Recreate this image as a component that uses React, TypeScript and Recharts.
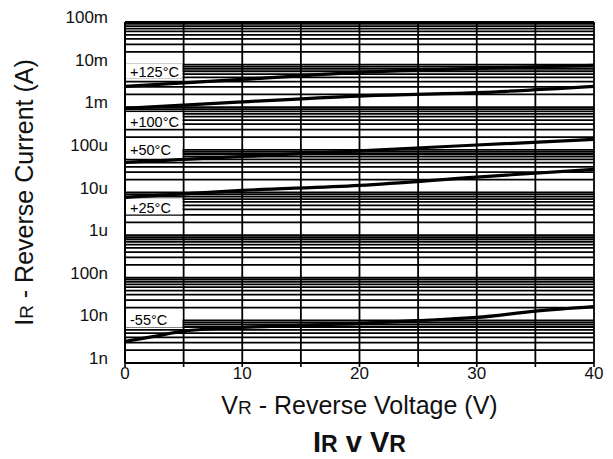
import React from 'react';
import { LineChart, Line, XAxis, YAxis, CartesianGrid, ReferenceArea } from 'recharts';

// ---- data ----
const volts = [0, 10, 20, 30, 40];
const voltsCold = [0, 2.5, 5, 10, 20, 25, 30, 35, 40];
const ir125 = [3.1e-3, 4.5e-3, 6.6e-3, 8.2e-3, 9.6e-3];
const ir100 = [0.94e-3, 1.34e-3, 1.83e-3, 2.2e-3, 3.1e-3];
const ir50 = [5.1e-5, 7.0e-5, 9.5e-5, 1.3e-4, 1.76e-4];
const ir25 = [7.7e-6, 1.12e-5, 1.47e-5, 2.3e-5, 3.5e-5];
const irM55 = [3.2e-9, 4.2e-9, 5.6e-9, 6.8e-9, 8.5e-9, 9.9e-9, 1.17e-8, 1.65e-8, 2.1e-8];

const curveLabels = ['+125°C', '+100°C', '+50°C', '+25°C', '-55°C'];
const labelBoxLow = [4.8e-3, 3.2e-4, 6.3e-5, 3.06e-6, 6.8e-9];
const labelBoxHigh = [1.05e-2, 7.6e-4, 1.86e-4, 7.3e-6, 1.8e-8];

const yDecades = [1e-9, 1e-8, 1e-7, 1e-6, 1e-5, 1e-4, 1e-3, 1e-2, 1e-1];
const yDecadeLabels = ['1n', '10n', '100n', '1u', '10u', '100u', '1m', '10m', '100m'];
const gridMultipliers = [1, 2, 3, 4, 5, 6, 7, 8, 9];
const xTicks = [0, 5, 10, 15, 20, 25, 30, 35, 40];
const xTickLabels = ['0', '', '10', '', '20', '', '30', '', '40'];

const yTicks: number[] = [];
yDecades.forEach((d, i) => {
  if (i === yDecades.length - 1) {
    yTicks.push(d);
  } else {
    gridMultipliers.forEach((k) => yTicks.push(k === 1 ? d : d * k));
  }
});

const toPoints = (xs: number[], ys: number[]) => xs.map((v, i) => ({ v, ir: ys[i] }));
const series = [
  toPoints(volts, ir125),
  toPoints(volts, ir100),
  toPoints(volts, ir50),
  toPoints(volts, ir25),
  toPoints(voltsCold, irM55),
];

const FONT = '"Liberation Sans", Arial, Helvetica, sans-serif';

const YTick = (props: any) => {
  const { x, y, payload } = props;
  const i = yDecades.indexOf(payload.value);
  if (i < 0) return null;
  return (
    <text x={x} y={y + 1} textAnchor="end" fontSize={17} fontFamily={FONT} fill="#111">
      {yDecadeLabels[i]}
    </text>
  );
};

const XTick = (props: any) => {
  const { x, y, payload } = props;
  const i = xTicks.indexOf(payload.value);
  const t = i >= 0 ? xTickLabels[i] : '';
  if (!t) return null;
  return (
    <text x={x} y={y} dy={12} textAnchor="middle" fontSize={17} fontFamily={FONT} fill="#111">
      {t}
    </text>
  );
};

const XTitle = (props: any) => {
  const vb = props.viewBox || {};
  const cx = vb.x + vb.width / 2;
  return (
    <g fontFamily={FONT} fill="#111">
      <text x={cx} y={vb.y + 51} textAnchor="middle" fontSize={25}>
        <tspan>V</tspan>
        <tspan fontSize={19}>R</tspan>
        <tspan> - Reverse Voltage (V)</tspan>
      </text>
      <text x={cx} y={vb.y + 89} textAnchor="middle" fontSize={29} fontWeight="bold">
        <tspan>I</tspan>
        <tspan fontSize={23}>R</tspan>
        <tspan> v V</tspan>
        <tspan fontSize={23}>R</tspan>
      </text>
    </g>
  );
};

const YTitle = (props: any) => {
  const vb = props.viewBox || {};
  const cy = vb.y + vb.height / 2;
  const tx = 33;
  return (
    <text
      x={tx}
      y={cy}
      transform={`rotate(-90 ${tx} ${cy})`}
      textAnchor="middle"
      fontSize={25}
      fontFamily={FONT}
      fill="#111"
    >
      <tspan>I</tspan>
      <tspan fontSize={19}>R</tspan>
      <tspan> - Reverse Current (A)</tspan>
    </text>
  );
};

const makeBoxLabel = (text: string) => (props: any) => {
  const vb = props.viewBox || {};
  return (
    <text
      x={vb.x + 5}
      y={vb.y + vb.height / 2 + 6.5}
      fontSize={14.5}
      fontFamily={FONT}
      fill="#000"
    >
      {text}
    </text>
  );
};

export default function App() {
  return (
    <div style={{ position: 'absolute', left: 0, top: 0, background: '#fff' }}>
      <LineChart
        width={613}
        height={459}
        margin={{ top: 22, right: 19, bottom: 0, left: 0 }}
      >
        <CartesianGrid stroke="#000" strokeWidth={1.8} />
        <XAxis
          type="number"
          dataKey="v"
          domain={[0, 40]}
          ticks={xTicks}
          interval={0}
          height={96}
          tickSize={4}
          tickMargin={0}
          tick={<XTick />}
          axisLine={{ stroke: '#000', strokeWidth: 2 }}
          tickLine={{ stroke: '#000', strokeWidth: 1.6 }}
          allowDuplicatedCategory={false}
          label={{ content: <XTitle /> }}
        />
        <YAxis
          type="number"
          scale="log"
          domain={[1e-9, 1e-1]}
          allowDataOverflow
          ticks={yTicks}
          interval={0}
          width={125}
          tickSize={0}
          tickMargin={17}
          tickLine={false}
          tick={<YTick />}
          axisLine={{ stroke: '#000', strokeWidth: 2 }}
          label={{ content: <YTitle /> }}
        />
        {curveLabels.map((t, i) => (
          <ReferenceArea
            key={t}
            x1={0}
            x2={4.9}
            y1={labelBoxLow[i]}
            y2={labelBoxHigh[i]}
            fill="#fff"
            fillOpacity={1}
            stroke="none"
            label={makeBoxLabel(t)}
          />
        ))}
        {series.map((d, i) => (
          <Line
            key={curveLabels[i]}
            data={d}
            dataKey="ir"
            type="monotone"
            stroke="#000"
            strokeWidth={3.2}
            dot={false}
            activeDot={false}
            isAnimationActive={false}
          />
        ))}
      </LineChart>
    </div>
  );
}
